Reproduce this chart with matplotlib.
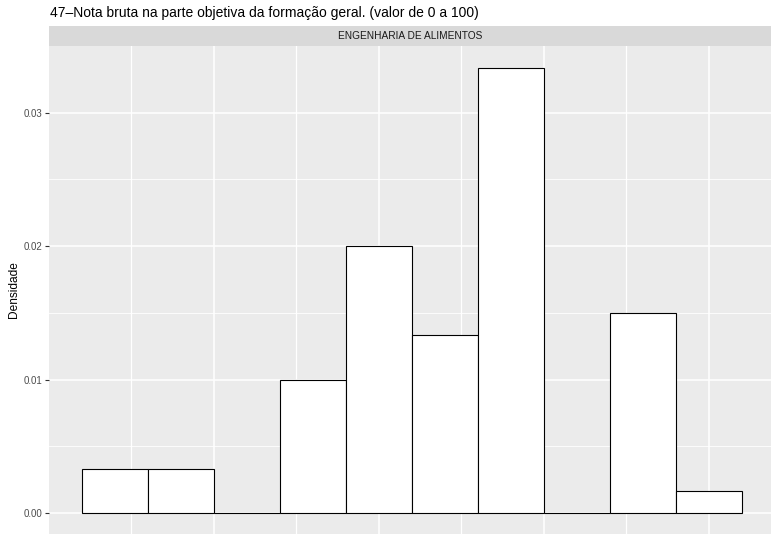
import matplotlib
matplotlib.use("Agg")
import matplotlib.pyplot as plt
from matplotlib.patches import Rectangle

plt.rcParams['font.family'] = ['Liberation Sans', 'DejaVu Sans']

# histogram (bin width 10)
bin_left = [5, 15, 25, 35, 45, 55, 65, 75, 85, 95]
densidade = [0.00333, 0.00333, 0.0, 0.010, 0.020, 0.01333, 0.03333, 0.0, 0.015, 0.00167]
bin_width = 10
y_ticks = [0.00, 0.01, 0.02, 0.03]
y_minor = [0.005, 0.015, 0.025]
x_major = [25, 50, 75, 100]
x_minor = [12.5, 37.5, 62.5, 87.5]

titulo = "47\u2013Nota bruta na parte objetiva da forma\u00e7\u00e3o geral. (valor de 0 a 100)"
faceta = "ENGENHARIA DE ALIMENTOS"

W, H = 771, 534
fig = plt.figure(figsize=(W / 100, H / 100), dpi=100)

# panel runs off the bottom and right of the image (cropped ggplot)
left, top = 49, 46
ax = fig.add_axes([left / W, 0, 1 - left / W, 1 - top / H])
ax.set_facecolor('#EBEBEB')

ymax = max(densidade)
ax.set_ylim(-0.0472 * ymax, 1.05 * ymax)
ax.set_xlim(0, 109.4)

for x in x_major:
    ax.axvline(x, color='white', lw=1.1, zorder=0)
for x in x_minor:
    ax.axvline(x, color='white', lw=0.9, zorder=0)
for y in y_ticks:
    ax.axhline(y, color='white', lw=1.1, zorder=0)
for y in y_minor:
    ax.axhline(y, color='white', lw=0.6, zorder=0)

ax.bar(bin_left, densidade, width=bin_width, align='edge',
       color='white', edgecolor='black', linewidth=0.8, zorder=2)

for s in ax.spines.values():
    s.set_visible(False)
ax.set_xticks([])
ax.set_yticks(y_ticks)
ax.set_yticklabels([f"{v:.2f}" for v in y_ticks])
ax.tick_params(axis='y', length=3, width=0.8, color='#333333',
               labelsize=7, labelcolor='#4D4D4D', pad=2)
ax.set_ylabel("Densidade", fontsize=8.6, color='black', labelpad=2.5)

# facet strip
strip_top = 26
fig.patches.append(Rectangle((left / W, 1 - top / H), 1 - left / W, (top - strip_top) / H,
                             transform=fig.transFigure, facecolor='#D9D9D9',
                             edgecolor='none', zorder=0))
fig.text((left + W) / 2 / W, 1 - (top + strip_top) / 2 / H, faceta,
         ha='center', va='center', fontsize=7.3, color='#1A1A1A')

fig.text(50 / W, 1 - 12.5 / H, titulo, ha='left', va='center', fontsize=10)

fig.savefig("out.png", dpi=100)
